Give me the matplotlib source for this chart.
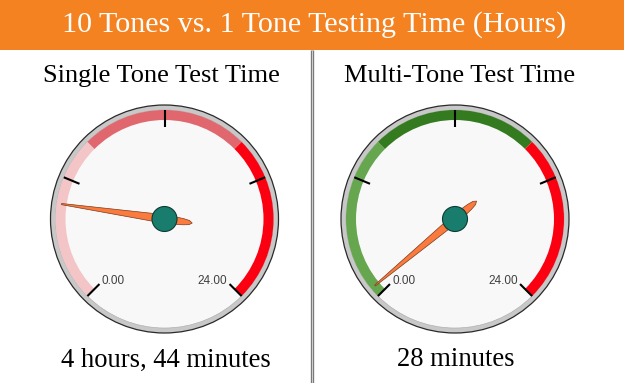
import numpy as np
import matplotlib
matplotlib.use("Agg")
import matplotlib.pyplot as plt
from matplotlib.patches import Wedge, Circle, Polygon, Rectangle

# ---------------- data ----------------
chart_title = "10 Tones vs. 1 Tone Testing Time (Hours)"
gauge_titles = ["Single Tone Test Time", "Multi-Tone Test Time"]
gauge_values = [4 + 44 / 60, 28 / 60]          # hours
value_labels = ["4 hours, 44 minutes", "28 minutes"]
gauge_min, gauge_max = 0.0, 24.0
band_limits = [0, 8, 16, 24]
band_colors = [["#f4c5c7", "#e0676d", "#fb0010"],
               ["#66a64f", "#347a1f", "#fb0010"]]
tick_values = [0, 6, 12, 18, 24]
end_labels = ["0.00", "24.00"]

# ---------------- layout ----------------
W, H = 624, 383
fig = plt.figure(figsize=(W / 100, H / 100), dpi=100)
ax = fig.add_axes([0, 0, 1, 1])
ax.set_xlim(0, W)
ax.set_ylim(0, H)
ax.set_aspect("auto")
ax.axis("off")

serif = ["Liberation Serif", "DejaVu Serif"]
sans = ["Liberation Sans", "DejaVu Sans"]

# banner
ax.add_patch(Rectangle((0, H - 50), W, 50, facecolor="#f48220", edgecolor="none"))
ax.text(W / 2 + 2, H - 25, chart_title, ha="center", va="center", color="white",
        fontsize=21.6, family=serif)

# divider
ax.plot([312, 312], [0, H - 50], color="#7a7a7a", lw=2.4, solid_capstyle="butt")
ax.plot([312, 312], [0, H - 50], color="#d0d0d0", lw=0.7, solid_capstyle="butt")

centers = [(164.5, H - 219), (455, H - 219)]
sub_x = [161, 460]
R_OUT, R_RING, R_BAND_IN = 114, 109, 99


def ang(v):
    return 225 - (v - gauge_min) / (gauge_max - gauge_min) * 270


def pol(cx, cy, r, a):
    t = np.deg2rad(a)
    return cx + r * np.cos(t), cy + r * np.sin(t)


for i, (cx, cy) in enumerate(centers):
    ax.text(sub_x[i], H - 76, gauge_titles[i], ha="center", va="center",
            color="black", fontsize=19, family=serif)
    # bezel
    ax.add_patch(Circle((cx, cy), R_OUT, facecolor="#c8c8c8", edgecolor="#2a2a2a", lw=0.9))
    ax.add_patch(Circle((cx, cy), R_RING, facecolor="#f8f8f8", edgecolor="#a8a8a8", lw=0.4))
    # colour bands
    for k in range(len(band_limits) - 1):
        ax.add_patch(Wedge((cx, cy), R_RING, ang(band_limits[k + 1]), ang(band_limits[k]),
                           width=R_RING - R_BAND_IN, facecolor=band_colors[i][k],
                           edgecolor="none"))
    # ticks
    for tv in tick_values:
        x0, y0 = pol(cx, cy, 92, ang(tv))
        x1, y1 = pol(cx, cy, R_RING, ang(tv))
        ax.plot([x0, x1], [y0, y1], color="black", lw=1.5, solid_capstyle="butt")
    # end labels
    lx, ly = pol(cx, cy, 90, ang(gauge_min))
    ax.text(lx + 1, ly + 1.5, end_labels[0], ha="left", va="center", fontsize=8.5,
            color="#404040", family=sans)
    rx, ry = pol(cx, cy, 90, ang(gauge_max))
    ax.text(rx - 1, ry + 1.5, end_labels[1], ha="right", va="center", fontsize=8.5,
            color="#404040", family=sans)
    # needle
    a = np.deg2rad(ang(gauge_values[i]))
    u = np.array([np.cos(a), np.sin(a)])
    n = np.array([-u[1], u[0]])
    prof = [(104, 0.6), (0, 4.3), (-10, 3.8), (-19, 3.1), (-25, 2.1), (-28, 0.0)]
    pts = [np.array([cx, cy]) + s * u + w * n for s, w in prof]
    pts += [np.array([cx, cy]) + s * u - w * n for s, w in reversed(prof[:-1])]
    ax.add_patch(Polygon(pts, closed=True, facecolor="#fb7a3e", edgecolor="#7a3a1a",
                         lw=0.5, joinstyle="round"))
    # hub
    ax.add_patch(Circle((cx, cy), 12.5, facecolor="#197d6e", edgecolor="#0c3b33", lw=0.8))
    # value label
    ax.text(cx + 1, H - 360, value_labels[i], ha="center", va="center",
            color="black", fontsize=19.2, family=serif)

fig.savefig("out.png", dpi=100, facecolor="white")
